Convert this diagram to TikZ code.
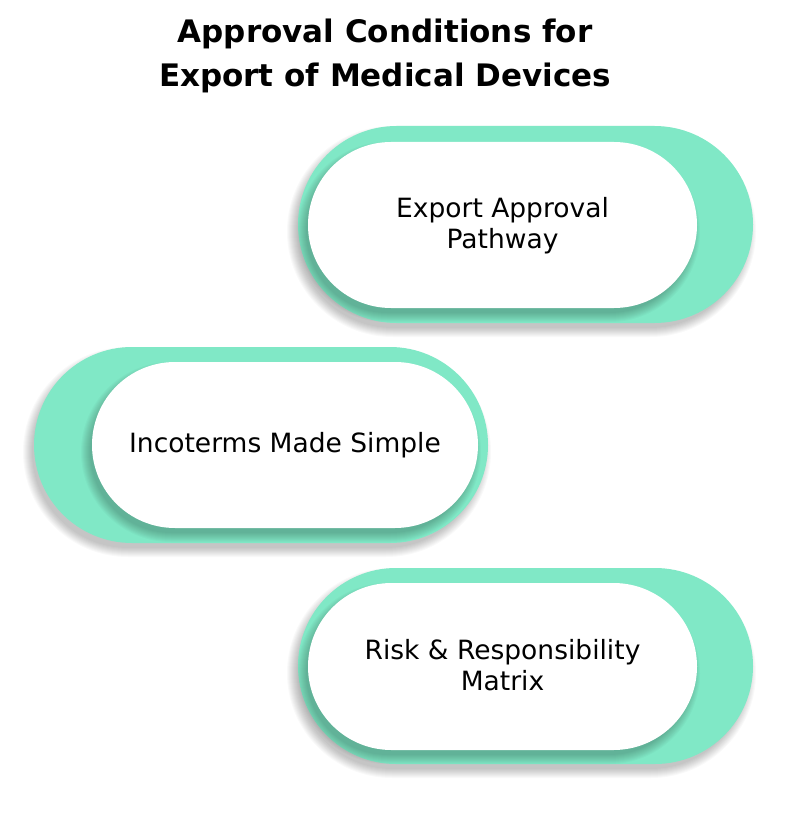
\documentclass[tikz,border=0pt]{standalone}
\usepackage{fontspec}
\setmainfont{DejaVu Sans}
\newfontfamily\titlefont{DejaVu Sans}
\usetikzlibrary{shapes.misc}
\definecolor{mint}{RGB}{128,232,198}
\tikzset{
  pill/.style={rounded rectangle, inner sep=0pt, outer sep=0pt},
  greenpill/.style={pill, fill=mint},
  whitepill/.style={pill, fill=white},
  lbl/.style={font=\fontsize{26.5}{31}\selectfont, align=center, text=black},
}
\newcommand{\softshadow}[4]{% x y w h
  \foreach \i in {1,...,10}{
    \node[pill, fill=black, opacity=0.025, minimum width={#3+\i*2-6}, minimum height={#4+\i*2-6}] at ({#1-4},{#2+7}) {};
  }
}
\begin{document}
\begin{tikzpicture}[x=1pt,y=-1pt]
\useasboundingbox (0,0) rectangle (801,821);
\fill[white] (0,0) rectangle (801,821);
% title
\node[font=\titlefont\bfseries\fontsize{31}{44}\selectfont, align=center, anchor=base] (title) at (385,87)
  {Approval Conditions for\\Export of Medical Devices};
% box 1
\softshadow{525.5}{224.5}{455}{197}
\node[greenpill, minimum width=455, minimum height=197] (g1) at (525.5,224.5) {};
\softshadow{502.5}{225}{389}{166}
\node[whitepill, minimum width=389, minimum height=166] (w1) at (502.5,225) {};
\node[lbl, anchor=base] (t1) at (502.5,248) {Export Approval\\Pathway};
% box 2
\softshadow{261}{445}{454}{196}
\node[greenpill, minimum width=454, minimum height=196] (g2) at (261,445) {};
\softshadow{285}{445}{386}{166}
\node[whitepill, minimum width=386, minimum height=166] (w2) at (285,445) {};
\node[lbl, anchor=base] (t2) at (285,452) {Incoterms Made Simple};
% box 3
\softshadow{525.5}{666}{455}{196}
\node[greenpill, minimum width=455, minimum height=196] (g3) at (525.5,666) {};
\softshadow{502.5}{666.5}{389}{167}
\node[whitepill, minimum width=389, minimum height=167] (w3) at (502.5,666.5) {};
\node[lbl, anchor=base] (t3) at (502.5,690) {Risk \& Responsibility\\Matrix};
\end{tikzpicture}
\end{document}
